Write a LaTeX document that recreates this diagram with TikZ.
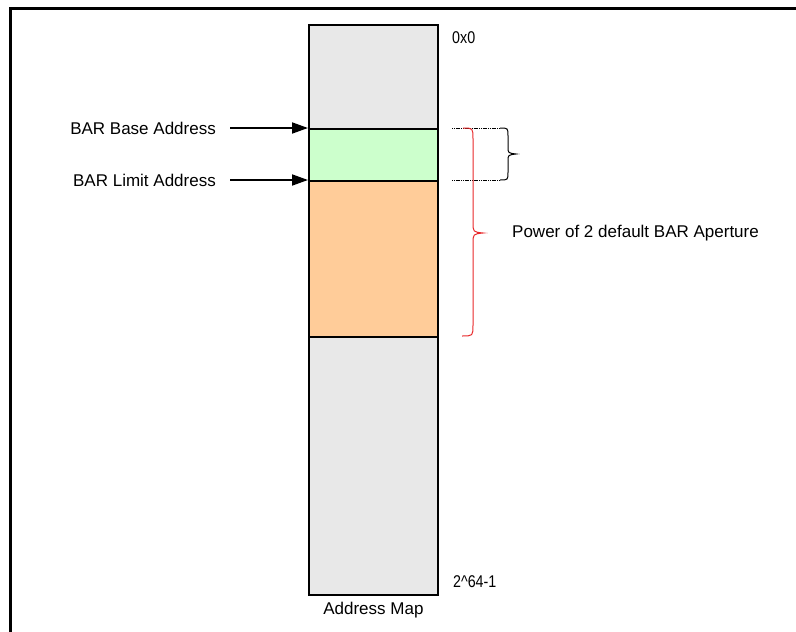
\documentclass[tikz,border=0pt]{standalone}
\usepackage{fontspec}
\setmainfont{Liberation Sans}
\usetikzlibrary{arrows.meta}
\definecolor{mapgray}{HTML}{E8E8E8}
\definecolor{bargreen}{HTML}{CCFFCC}
\definecolor{barorange}{HTML}{FFCC99}
\definecolor{bracered}{HTML}{E8282A}
\begin{document}
\begin{tikzpicture}[x=1pt,y=-1pt,
  region/.style={draw=black,line width=1.8pt,inner sep=0pt,minimum width=129pt,anchor=north west},
  lbl/.style={inner sep=0pt,font=\fontsize{17}{20}\selectfont},
  narrow/.style={inner sep=0pt,font=\fontsize{17}{20}\selectfont,xscale=0.84},
  arr/.style={line width=1.8pt,-{Triangle[length=16pt,width=11pt]}},
  brace/.style={line width=1pt},
  tick/.style={line width=1pt,dash pattern=on 1.2pt off 0.6pt}]
\useasboundingbox (0,0) rectangle (796,632);
% frame
\draw[line width=3pt] (10,633) -- (10,8) -- (797,8);
% address map regions
\node[region,fill=mapgray,minimum height=104pt] (top) at (308,24) {};
\node[region,fill=bargreen,minimum height=52pt] (green) at (308,128) {};
\node[region,fill=barorange,minimum height=156pt] (orange) at (308,180) {};
\node[region,fill=mapgray,minimum height=258pt] (bottom) at (308,336) {};
% labels
\node[lbl,anchor=east] (base) at (216,128) {BAR Base Address};
\node[lbl,anchor=east] (limit) at (216,180) {BAR Limit Address};
\node[narrow,anchor=west] (zero) at (452,38) {0x0};
\node[narrow,anchor=west] (max) at (453,582) {2\^{}64-1};
\node[lbl,anchor=north] (amap) at (bottom.south) [yshift=-6pt] {Address Map};
\node[lbl,anchor=west] (aper) at (512,233) {Power of 2 default BAR Aperture};
% arrows
\draw[arr] ([xshift=14pt]base.east) -- (green.north west);
\draw[arr] ([xshift=14pt]limit.east) -- (orange.north west);
% black brace
\coordinate (bt) at (452,128);
\coordinate (bb) at (452,180);
\draw[tick] (bt) -- (500,128);
\draw[tick] (bb) -- (500,180);
\draw[brace] (500,128) .. controls (508,128) .. (508,136) -- (508,147) .. controls (508,153) .. (516,154)
  .. controls (508,155) .. (508,161) -- (508,172) .. controls (508,180) .. (500,180);
% red brace
\draw[brace,bracered] (463,128) .. controls (473,128) .. (473,139) -- (473,222) .. controls (473,232) .. (483,233)
  .. controls (473,234) .. (473,244) -- (473,325) .. controls (473,336) .. (462,336);
\end{tikzpicture}
\end{document}
